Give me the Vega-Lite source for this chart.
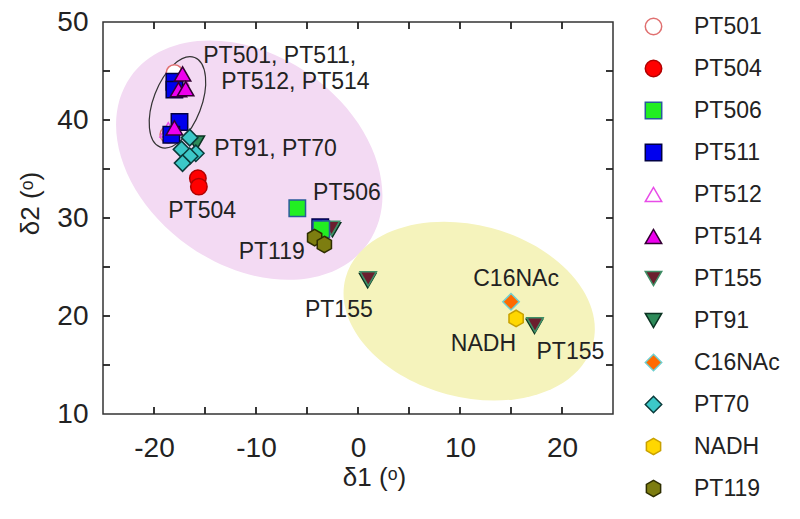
{
  "$schema": "https://vega.github.io/schema/vega-lite/v6.json",
  "width": 510,
  "height": 392,
  "autosize": "none",
  "padding": {"left": 103, "top": 22, "right": 187, "bottom": 105},
  "background": "white",
  "config": {
    "font": "Liberation Sans",
    "view": {"stroke": "#333", "strokeWidth": 1.5},
    "axis": {"domain": false, "grid": false, "ticks": false, "labelColor": "#222", "titleColor": "#222", "labelFont": "Liberation Sans", "titleFont": "Liberation Sans"}
  },
  "datasets": {
    "regions": [
      {"region": "pink", "x": -10.66, "y": 35.9},
      {"region": "yellow", "x": 10.9, "y": 20.5},
      {"region": "small", "x": -17.7, "y": 41.8}
    ],
    "xticks": [{"v": -20}, {"v": -15}, {"v": -10}, {"v": -5}, {"v": 0}, {"v": 5}, {"v": 10}, {"v": 15}, {"v": 20}],
    "yticks": [{"v": 15}, {"v": 20}, {"v": 25}, {"v": 30}, {"v": 35}, {"v": 40}, {"v": 45}],
    "pts": [
      {"series": "PT501", "x": -18.0, "y": 44.8},
      {"series": "PT501", "x": -18.6, "y": 38.5},
      {"series": "PT512", "x": -18.6, "y": 39.0},
      {"series": "PT512", "x": -17.4, "y": 44.3},
      {"series": "PT511", "x": -18.0, "y": 43.9},
      {"series": "PT511", "x": -18.0, "y": 43.1},
      {"series": "PT511", "x": -17.5, "y": 39.8},
      {"series": "PT511", "x": -18.3, "y": 38.5},
      {"series": "PT511", "x": -3.7, "y": 29.05},
      {"series": "PT514", "x": -17.2, "y": 44.7},
      {"series": "PT514", "x": -17.6, "y": 43.1},
      {"series": "PT514", "x": -16.9, "y": 43.2},
      {"series": "PT514", "x": -18.0, "y": 39.2},
      {"series": "PT91", "x": -15.85, "y": 37.65},
      {"series": "PT91", "x": -2.5, "y": 28.8},
      {"series": "PT91", "x": 0.95, "y": 23.6},
      {"series": "PT91", "x": 17.3, "y": 18.95},
      {"series": "PT155", "x": -2.6, "y": 28.95},
      {"series": "PT155", "x": 1.0, "y": 23.8},
      {"series": "PT155", "x": 17.35, "y": 19.1},
      {"series": "PT70", "x": -16.5, "y": 38.2},
      {"series": "PT70", "x": -17.3, "y": 37.0},
      {"series": "PT70", "x": -15.9, "y": 36.6},
      {"series": "PT70", "x": -16.5, "y": 36.3},
      {"series": "PT70", "x": -17.2, "y": 35.6},
      {"series": "PT504", "x": -15.7, "y": 34.05},
      {"series": "PT504", "x": -15.6, "y": 33.2},
      {"series": "PT506", "x": -5.95, "y": 31.0},
      {"series": "PT506", "x": -3.6, "y": 28.85},
      {"series": "PT119", "x": -4.25, "y": 28.0},
      {"series": "PT119", "x": -3.3, "y": 27.3},
      {"series": "C16NAc", "x": 15.0, "y": 21.45},
      {"series": "NADH", "x": 15.5, "y": 19.75}
    ],
    "labels": [
      {"label": "PT501, PT511,", "x": -15.17, "y": 46.5},
      {"label": "PT512, PT514", "x": -13.4, "y": 43.9},
      {"label": "PT91, PT70", "x": -14.1, "y": 37.0},
      {"label": "PT504", "x": -18.6, "y": 30.7},
      {"label": "PT506", "x": -4.4, "y": 32.6},
      {"label": "PT119", "x": -11.7, "y": 26.5},
      {"label": "PT155", "x": -5.2, "y": 20.6},
      {"label": "C16NAc", "x": 11.3, "y": 23.8},
      {"label": "NADH", "x": 9.1, "y": 17.1},
      {"label": "PT155", "x": 17.5, "y": 16.3}
    ]
  },
  "resolve": {"axis": {"x": "independent", "y": "independent"}},
  "layer": [
    {
      "data": {"name": "regions"},
      "transform": [{"filter": "datum.region === 'pink'"}],
      "mark": {"type": "point", "filled": true, "opacity": 1, "fill": "#f3daf3", "strokeWidth": 0, "size": 84100, "angle": 35,
        "shape": "M 1 0 C 1 0.4 0.5523 0.724 0 0.724 C -0.5523 0.724 -1 0.4 -1 0 C -1 -0.4 -0.5523 -0.724 0 -0.724 C 0.5523 -0.724 1 -0.4 1 0 Z"},
      "encoding": {
        "x": {"field": "x", "type": "quantitative", "scale": {"domain": [-25, 25], "nice": false, "zero": false},
          "axis": {"orient": "bottom", "values": [-20, -10, 0, 10, 20], "labelExpr": "'' + datum.value",
            "labelPadding": 20, "labelFontSize": 28, "title": "δ1 (ᵒ)", "titleFontSize": 26, "titleFontWeight": "normal",
            "titleX": 271, "titleY": 63, "titleBaseline": "middle", "titleAlign": "center"}},
        "y": {"field": "y", "type": "quantitative", "scale": {"domain": [10, 50], "nice": false, "zero": false},
          "axis": {"orient": "left", "values": [10, 20, 30, 40, 50], "labelExpr": "'' + datum.value",
            "labelPadding": 15, "labelFontSize": 28, "title": "δ2 (ᵒ)", "titleFontSize": 26, "titleFontWeight": "normal",
            "titleX": -73, "titleY": 181, "titleAngle": -90, "titleBaseline": "middle", "titleAlign": "center"}}
      }
    },
    {
      "data": {"name": "regions"},
      "transform": [{"filter": "datum.region === 'yellow'"}],
      "mark": {"type": "point", "filled": true, "opacity": 1, "fill": "#f5f3bc", "strokeWidth": 0, "size": 65536, "angle": 15,
        "shape": "M 1 0 C 1 0.371 0.5523 0.672 0 0.672 C -0.5523 0.672 -1 0.371 -1 0 C -1 -0.371 -0.5523 -0.672 0 -0.672 C 0.5523 -0.672 1 -0.371 1 0 Z"},
      "encoding": {
        "x": {"field": "x", "type": "quantitative", "axis": null},
        "y": {"field": "y", "type": "quantitative", "axis": null}
      }
    },
    {
      "data": {"name": "regions"},
      "transform": [{"filter": "datum.region === 'small'"}],
      "mark": {"type": "point", "filled": false, "opacity": 1, "stroke": "#333", "strokeWidth": 1.2, "size": 9216, "angle": 291,
        "shape": "M 1 0 C 1 0.276 0.5523 0.5 0 0.5 C -0.5523 0.5 -1 0.276 -1 0 C -1 -0.276 -0.5523 -0.5 0 -0.5 C 0.5523 -0.5 1 -0.276 1 0 Z"},
      "encoding": {
        "x": {"field": "x", "type": "quantitative", "axis": null},
        "y": {"field": "y", "type": "quantitative", "axis": null}
      }
    },
    {
      "data": {"name": "xticks"},
      "mark": {"type": "point", "shape": "M0,-1L0,0", "size": 196, "strokeWidth": 1.8, "stroke": "#222", "filled": false, "opacity": 1},
      "encoding": {
        "x": {"field": "v", "type": "quantitative", "axis": null},
        "y": {"datum": 10, "type": "quantitative", "axis": null}
      }
    },
    {
      "data": {"name": "xticks"},
      "mark": {"type": "point", "shape": "M0,0L0,1", "size": 196, "strokeWidth": 1.8, "stroke": "#222", "filled": false, "opacity": 1},
      "encoding": {
        "x": {"field": "v", "type": "quantitative", "axis": null},
        "y": {"datum": 50, "type": "quantitative", "axis": null}
      }
    },
    {
      "data": {"name": "yticks"},
      "mark": {"type": "point", "shape": "M0,0L1,0", "size": 196, "strokeWidth": 1.8, "stroke": "#222", "filled": false, "opacity": 1},
      "encoding": {
        "y": {"field": "v", "type": "quantitative", "axis": null},
        "x": {"datum": -25, "type": "quantitative", "axis": null}
      }
    },
    {
      "data": {"name": "yticks"},
      "mark": {"type": "point", "shape": "M0,0L-1,0", "size": 196, "strokeWidth": 1.8, "stroke": "#222", "filled": false, "opacity": 1},
      "encoding": {
        "y": {"field": "v", "type": "quantitative", "axis": null},
        "x": {"datum": 25, "type": "quantitative", "axis": null}
      }
    },
    {
      "data": {"name": "pts"},
      "mark": {"type": "point", "filled": true, "opacity": 1, "size": 270, "strokeWidth": 1.5},
      "encoding": {
        "x": {"field": "x", "type": "quantitative", "axis": null},
        "y": {"field": "y", "type": "quantitative", "axis": null},
        "shape": {"field": "series", "type": "nominal",
          "scale": {"domain": ["PT501", "PT504", "PT506", "PT511", "PT512", "PT514", "PT155", "PT91", "C16NAc", "PT70", "NADH", "PT119"],
            "range": ["circle", "circle", "square", "square", "triangle-up", "triangle-up", "triangle-down", "triangle-down", "diamond", "diamond",
              "M0,-1L0.866,-0.5L0.866,0.5L0,1L-0.866,0.5L-0.866,-0.5Z", "M0,-1L0.866,-0.5L0.866,0.5L0,1L-0.866,0.5L-0.866,-0.5Z"]},
          "legend": {"orient": "none", "legendX": 539, "legendY": -7, "title": null, "labelFontSize": 23, "labelFont": "Liberation Sans", "labelColor": "#222",
            "symbolSize": 270, "rowPadding": 18, "labelOffset": 29, "symbolStrokeWidth": 1.5, "padding": 0}},
        "fill": {"field": "series", "type": "nominal",
          "scale": {"domain": ["PT501", "PT504", "PT506", "PT511", "PT512", "PT514", "PT155", "PT91", "C16NAc", "PT70", "NADH", "PT119"],
            "range": ["#ffffff", "#ff0000", "#22ee22", "#0000ee", "#ffffff", "#ee00ee", "#6b1f2e", "#2e8b5a", "#ff6a00", "#3cc8c8", "#ffd700", "#7d7d10"]},
          "legend": {"orient": "none", "legendX": 539, "legendY": -7, "title": null, "labelFontSize": 23, "labelFont": "Liberation Sans", "labelColor": "#222",
            "symbolSize": 270, "rowPadding": 18, "labelOffset": 29, "symbolStrokeWidth": 1.5, "padding": 0}},
        "stroke": {"field": "series", "type": "nominal",
          "scale": {"domain": ["PT501", "PT504", "PT506", "PT511", "PT512", "PT514", "PT155", "PT91", "C16NAc", "PT70", "NADH", "PT119"],
            "range": ["#e07070", "#b00000", "#2a5a9a", "#000044", "#e84de8", "#330033", "#3f8f66", "#0b3322", "#70d0d0", "#0a3a3a", "#c8a000", "#2e2e00"]},
          "legend": {"orient": "none", "legendX": 539, "legendY": -7, "title": null, "labelFontSize": 23, "labelFont": "Liberation Sans", "labelColor": "#222",
            "symbolSize": 270, "rowPadding": 18, "labelOffset": 29, "symbolStrokeWidth": 1.5, "padding": 0}}
      }
    },
    {
      "data": {"name": "labels"},
      "mark": {"type": "text", "align": "left", "baseline": "middle", "fontSize": 23, "font": "Liberation Sans", "color": "#222"},
      "encoding": {
        "x": {"field": "x", "type": "quantitative", "axis": null},
        "y": {"field": "y", "type": "quantitative", "axis": null},
        "text": {"field": "label", "type": "nominal"}
      }
    }
  ]
}
